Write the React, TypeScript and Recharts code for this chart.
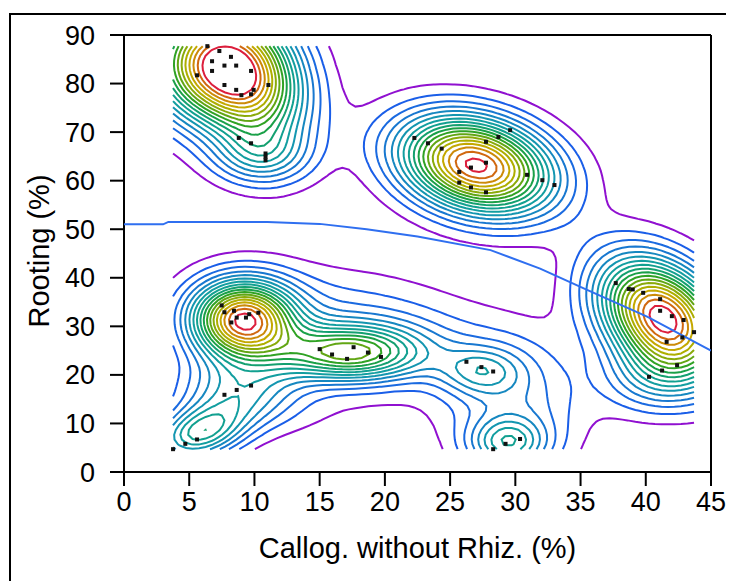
import React from 'react';
import { ScatterChart, Scatter, XAxis, YAxis, ReferenceLine } from 'recharts';

// Observed samples (black squares)
const pointsX = [
  6.39, 7.31, 8.2, 6.75, 7.7, 8.6, 5.6, 6.75, 9.74, 7.7, 8.6, 9.0, 9.74, 9.94, 11.07, 8.8, 9.74, 10.85, 10.85, 10.85,
  22.26, 23.3, 24.35, 27.75, 28.7, 29.6, 26.6, 27.75, 25.7, 25.7, 26.6, 27.75, 30.9, 32.07, 33.0,
  37.7, 38.7, 39.0, 39.8, 41.1, 41.1, 42.0, 42.9, 43.7, 42.8, 41.6, 42.4, 41.25, 40.25,
  7.49, 7.7, 8.43, 8.64, 8.23, 9.35, 9.6, 10.3, 7.7, 8.64, 9.74, 3.76, 4.7, 5.6,
  15.0, 15.95, 17.1, 17.6, 18.7, 19.7,
  26.25, 27.4, 28.3, 28.3, 29.25, 30.36,
];
const pointsY = [
  87.7, 86.7, 85.5, 84.6, 83.7, 83.7, 81.7, 82.6, 82.6, 79.7, 78.7, 77.6, 77.8, 78.7, 79.7, 68.8, 67.7, 65.6, 64.9, 64.2,
  68.8, 67.7, 66.6, 68.0, 69.0, 70.4, 62.7, 63.7, 61.8, 59.6, 58.6, 57.6, 61.2, 60.1, 59.1,
  38.9, 37.7, 37.6, 36.9, 35.6, 33.2, 32.1, 31.3, 28.8, 27.7, 26.8, 22.0, 20.9, 19.6,
  34.3, 32.9, 33.2, 31.8, 30.8, 31.8, 32.5, 32.8, 15.9, 16.9, 17.8, 4.7, 5.8, 6.7,
  25.3, 24.2, 23.3, 25.7, 24.6, 23.7,
  22.7, 21.6, 20.7, 4.7, 5.8, 6.8,
];

// Density surface: one entry per peak / shoulder
// (centre, spread along x and y, correlation, height in contour-level units)
const peakX = [6.3, 9.8, 10.5, 27.0, 41.3, 9.1, 17.2, 8.9, 5.8, 27.3, 29.4, 30.0, 18.0, 40.5, 16.5];
const peakY = [84.0, 80.0, 65.0, 63.2, 31.8, 31.3, 24.5, 16.5, 8.0, 20.8, 6.0, 13.0, 30.0, 19.0, 11.5];
const peakSX = [3.2, 3.0, 2.5, 4.0, 3.3, 2.7, 4.0, 3.2, 2.4, 2.2, 2.0, 3.5, 7.0, 2.8, 5.0];
const peakSY = [8.0, 9.5, 4.0, 6.9, 8.3, 5.5, 4.0, 5.0, 4.0, 3.5, 3.5, 10.0, 8.0, 5.0, 4.0];
const peakRho = [0, -0.2, 0, -0.25, -0.35, 0, 0, 0, 0.3, 0, 0, 0, -0.3, 0, 0];
const peakH = [12.5, 12.5, 4, 18.4, 18.8, 17, 10.5, 5.5, 8, 4, 5.5, 3.5, 3, 3.5, 0.5];

// Domain of the density grid (range of the samples)
const gridX = [3.76, 43.7];
const gridY = [4.7, 87.7];

// Fitted trend line (blue)
const trendX = [0, 3, 3.4, 11, 15, 18.6, 22.5, 28.1, 31.9, 35.5, 40.1, 45];
const trendY = [51, 51, 51.5, 51.5, 51.1, 50, 48.5, 45.7, 41.9, 37.5, 32, 25];

const xTicks = [0, 5, 10, 15, 20, 25, 30, 35, 40, 45];
const yTicks = [0, 10, 20, 30, 40, 50, 60, 70, 80, 90];

const levelColors = [
  '#9010d0', '#1a5ee8', '#1a6ae0', '#1878d0', '#1688c0', '#1496b0', '#139ea0', '#12a090', '#14a070',
  '#1aa048', '#30a224', '#62a614', '#8aaa0a', '#aeae00', '#c4a800', '#cc8a08', '#d06810', '#dc1e3c',
];

const NX = 81;
const NY = 85;

type P = { x: number; y: number };

function density(x: number, y: number) {
  let s = 0;
  for (let k = 0; k < peakX.length; k++) {
    const dx = (x - peakX[k]) / peakSX[k];
    const dy = (y - peakY[k]) / peakSY[k];
    const r = peakRho[k];
    const q = (dx * dx - 2 * r * dx * dy + dy * dy) / (1 - r * r);
    s += peakH[k] * Math.exp(-0.5 * q);
  }
  return s;
}

function buildContours(): { color: string; pts: P[] }[] {
  const gx: number[] = [], gy: number[] = [];
  for (let i = 0; i < NX; i++) gx.push(gridX[0] + ((gridX[1] - gridX[0]) * i) / (NX - 1));
  for (let j = 0; j < NY; j++) gy.push(gridY[0] + ((gridY[1] - gridY[0]) * j) / (NY - 1));
  const D: number[][] = gy.map((y) => gx.map((x) => density(x, y)));
  const out: { color: string; pts: P[] }[] = [];
  levelColors.forEach((color, li) => {
    const L = li + 1;
    const ptOf = new Map<string, P>();
    const segs: [string, string][] = [];
    const interp = (ka: string, xa: number, ya: number, va: number, xb: number, yb: number, vb: number) => {
      if (!ptOf.has(ka)) {
        const t = (L - va) / (vb - va);
        ptOf.set(ka, { x: xa + (xb - xa) * t, y: ya + (yb - ya) * t });
      }
      return ka;
    };
    for (let j = 0; j < NY - 1; j++) {
      for (let i = 0; i < NX - 1; i++) {
        const v00 = D[j][i], v10 = D[j][i + 1], v11 = D[j + 1][i + 1], v01 = D[j + 1][i];
        const a00 = v00 > L, a10 = v10 > L, a11 = v11 > L, a01 = v01 > L;
        const e: Record<string, string> = {};
        if (a00 !== a10) e.b = interp(`h${i}_${j}`, gx[i], gy[j], v00, gx[i + 1], gy[j], v10);
        if (a10 !== a11) e.r = interp(`v${i + 1}_${j}`, gx[i + 1], gy[j], v10, gx[i + 1], gy[j + 1], v11);
        if (a01 !== a11) e.t = interp(`h${i}_${j + 1}`, gx[i], gy[j + 1], v01, gx[i + 1], gy[j + 1], v11);
        if (a00 !== a01) e.l = interp(`v${i}_${j}`, gx[i], gy[j], v00, gx[i], gy[j + 1], v01);
        const keys = Object.keys(e);
        if (keys.length === 2) segs.push([e[keys[0]], e[keys[1]]]);
        else if (keys.length === 4) {
          const c = (v00 + v10 + v11 + v01) / 4 > L;
          const diag = a00 && a11;
          if ((diag && c) || (!diag && !c)) {
            segs.push([e.b, e.r]);
            segs.push([e.t, e.l]);
          } else {
            segs.push([e.b, e.l]);
            segs.push([e.r, e.t]);
          }
        }
      }
    }
    const adj = new Map<string, number[]>();
    segs.forEach(([a, b], si) => {
      if (!adj.has(a)) adj.set(a, []);
      if (!adj.has(b)) adj.set(b, []);
      adj.get(a)!.push(si);
      adj.get(b)!.push(si);
    });
    const used = new Array(segs.length).fill(false);
    const walk = (startKey: string) => {
      const pts: P[] = [ptOf.get(startKey)!];
      let k = startKey;
      for (;;) {
        const list = adj.get(k) || [];
        const si = list.find((s) => !used[s]);
        if (si === undefined) break;
        used[si] = true;
        const [a, b] = segs[si];
        k = a === k ? b : a;
        pts.push(ptOf.get(k)!);
      }
      if (pts.length > 1) out.push({ color, pts });
    };
    adj.forEach((list, key) => {
      if (list.length === 1 && !used[list[0]]) walk(key);
    });
    segs.forEach(([a], si) => {
      if (!used[si]) walk(a);
    });
  });
  return out;
}

const contours = buildContours();
const samples = pointsX.map((x, i) => ({ x, y: pointsY[i] }));
const trend = trendX.map((x, i) => ({ x, y: trendY[i] }));

const FONT = '"Liberation Sans", Arial, sans-serif';
const Empty = () => <g />;
const Square = (props: any) => (
  <rect x={props.cx - 2} y={props.cy - 2} width={4} height={4} fill="#111" />
);

const YTitle = (props: any) => {
  const vb = props.viewBox || {};
  const cy = vb.y + vb.height / 2 - 2.5;
  return (
    <text
      x={41}
      y={cy}
      transform={`rotate(-90, 41, ${cy})`}
      textAnchor="middle"
      fontSize={29}
      fontFamily={FONT}
      fill="#000"
    >
      Rooting (%)
    </text>
  );
};

export default function App() {
  return (
    <div style={{ position: 'relative', width: 726, height: 573, overflow: 'hidden', background: '#fff' }}>
      <div
        style={{
          position: 'absolute',
          left: 1,
          top: 5,
          width: 2000,
          height: 2000,
          borderTop: '2px solid #000',
          borderLeft: '2px solid #000',
        }}
      />
      <div style={{ position: 'absolute', left: 0, top: 0 }}>
        <ScatterChart width={726} height={573} margin={{ top: 27, right: 23, bottom: 0, left: 0 }}>
          <XAxis
            type="number"
            dataKey="x"
            domain={[0, 45]}
            ticks={xTicks}
            allowDataOverflow
            height={109}
            tickSize={14}
            tickMargin={6}
            axisLine={{ stroke: '#000', strokeWidth: 2 }}
            tickLine={{ stroke: '#000', strokeWidth: 2 }}
            tick={{ fontSize: 27, fill: '#000', fontFamily: FONT }}
            label={{ value: 'Callog. without Rhiz. (%)', position: 'insideBottom', offset: 23, fontSize: 29, fill: '#000', fontFamily: FONT }}
          />
          <YAxis
            type="number"
            dataKey="y"
            domain={[0, 90]}
            ticks={yTicks}
            allowDataOverflow
            width={116}
            tickSize={14}
            tickMargin={15}
            axisLine={{ stroke: '#000', strokeWidth: 2 }}
            tickLine={{ stroke: '#000', strokeWidth: 2 }}
            tick={{ fontSize: 27, fill: '#000', fontFamily: FONT }}
            label={<YTitle />}
          />
          <ReferenceLine y={90} stroke="#000" strokeWidth={2} />
          <ReferenceLine x={45} stroke="#000" strokeWidth={2} />
          {contours.map((c, i) => (
            <Scatter
              key={`c${i}`}
              data={c.pts}
              fill={c.color}
              line={{ stroke: c.color, strokeWidth: 2 }}
              shape={Empty}
              isAnimationActive={false}
            />
          ))}
          <Scatter
            data={trend}
            fill="#2f6ff0"
            line={{ stroke: '#2f6ff0', strokeWidth: 2 }}
            shape={Empty}
            isAnimationActive={false}
          />
          <Scatter data={samples} fill="#111" shape={Square} isAnimationActive={false} />
        </ScatterChart>
      </div>
    </div>
  );
}
